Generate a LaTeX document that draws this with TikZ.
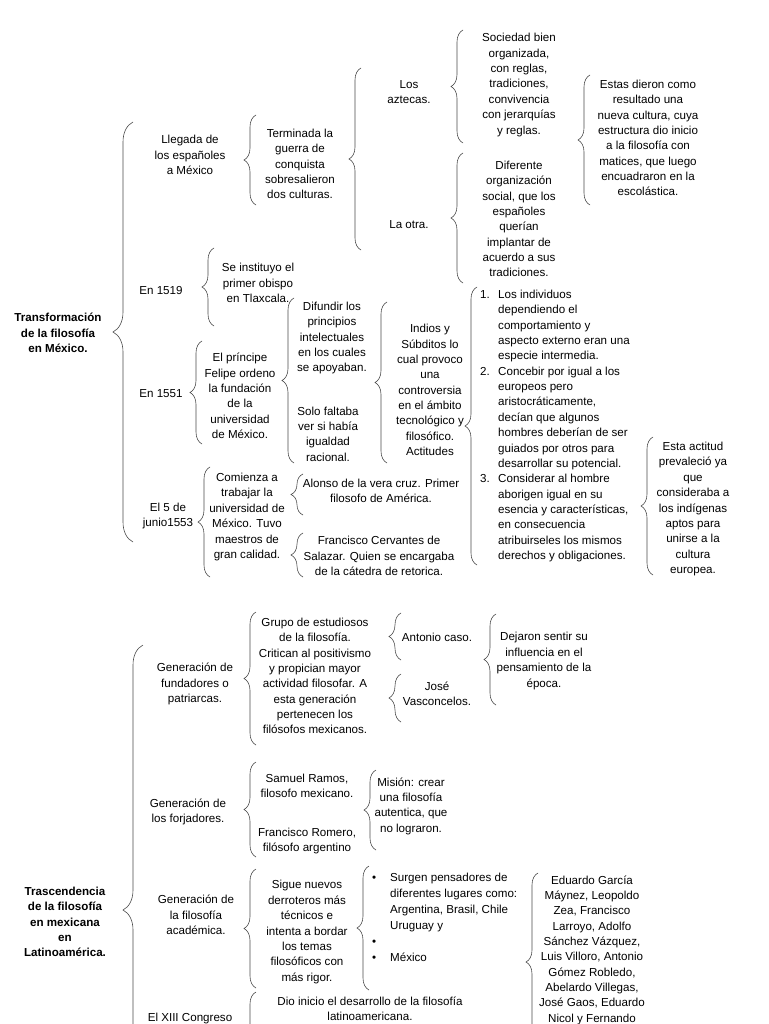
\documentclass[tikz,border=0pt]{standalone}
\usepackage{fontspec}
\setmainfont{Liberation Sans}
\usetikzlibrary{decorations.pathreplacing}
\begin{document}
\begin{tikzpicture}[x=1pt,y=-1pt,
  txt/.style={font=\fontsize{11.6}{15.35}\selectfont,align=center,inner sep=0pt},
  tit/.style={txt,font=\fontsize{11.6}{15.35}\selectfont\bfseries},
  brc/.style={decorate,decoration={brace,amplitude=12pt},black!70,line width=0.6pt},
  bigbrc/.style={brc,decoration={brace,amplitude=20pt}}]
\useasboundingbox (0,0) rectangle (768,1024);
\fill[white] (0,0) rectangle (768,1024);
\clip (0,0) rectangle (768,1024);

\node[tit] (trans) at (58,333) {Transformación\\de la filosofía\\en México.};
\node[txt] (llegada) at (190,155) {Llegada de\\los españoles\\a México};
\node[txt] (en1519) at (161,291) {En 1519};
\node[txt] (en1551) at (161,394) {En 1551};
\node[txt] (junio) at (168,516) {El 5 de\\junio1553};
\node[txt] (terminada) at (300,164) {Terminada la\\guerra de\\conquista\\sobresalieron\\dos culturas.};
\node[txt] (aztecas) at (409,92) {Los\\aztecas.};
\node[txt] (otra) at (409,225) {La otra.};
\node[txt] (sociedad) at (519,85) {Sociedad bien\\organizada,\\con reglas,\\tradiciones,\\convivencia\\con jerarquías\\y reglas.};
\node[txt] (diferente) at (519,219) {Diferente\\organización\\social, que los\\españoles\\querían\\implantar de\\acuerdo a sus\\tradiciones.};
\node[txt] (estas) at (648,138) {Estas dieron como\\resultado una\\nueva cultura, cuya\\estructura dio inicio\\a la filosofía con\\matices, que luego\\encuadraron en la\\escolástica.};
\node[txt] (obispo) at (258,283) {Se instituyo el\\primer obispo\\en Tlaxcala.};
\node[txt] (principe) at (240,396) {El príncipe\\Felipe ordeno\\la fundación\\de la\\universidad\\de México.};
\node[txt] (difundir) at (332,338) {Difundir los\\principios\\intelectuales\\en los cuales\\se apoyaban.};
\node[txt] (faltaba) at (328,434) {Solo faltaba\\ver si había\\igualdad\\racional.};
\node[txt] (indios) at (430,390) {Indios y\\Súbditos lo\\cual provoco\\una\\controversia\\en el ámbito\\tecnológico y\\filosófico.\\Actitudes};
\node[txt,align=left,anchor=west] (lista) at (480,426) {\makebox[18pt][l]{1.}Los individuos\\\hspace*{18pt}dependiendo el\\\hspace*{18pt}comportamiento y\\\hspace*{18pt}aspecto externo eran una\\\hspace*{18pt}especie intermedia.\\\makebox[18pt][l]{2.}Concebir por igual a los\\\hspace*{18pt}europeos  pero\\\hspace*{18pt}aristocráticamente,\\\hspace*{18pt}decían que algunos\\\hspace*{18pt}hombres deberían de ser\\\hspace*{18pt}guiados por otros para\\\hspace*{18pt}desarrollar su potencial.\\\makebox[18pt][l]{3.}Considerar al hombre\\\hspace*{18pt}aborigen igual en su\\\hspace*{18pt}esencia y características,\\\hspace*{18pt}en consecuencia\\\hspace*{18pt}atribuirseles  los mismos\\\hspace*{18pt}derechos y obligaciones.};
\node[txt] (actitud) at (693,509) {Esta actitud\\prevaleció ya\\que\\consideraba a\\los indígenas\\aptos para\\unirse a la\\cultura\\europea.};
\node[txt] (comienza) at (247,517) {Comienza a\\trabajar la\\universidad de\\México.  Tuvo\\maestros de\\gran calidad.};
\node[txt] (alonso) at (381,491) {Alonso de la vera cruz. Primer\\filosofo de América.};
\node[txt] (cervantes) at (379,556) {Francisco Cervantes de\\Salazar. Quien se encargaba\\de la cátedra de retorica.};

\draw[bigbrc] (133,542) -- (133,122);
\draw[brc] (256,205) -- (256,115);
\draw[brc] (361,250) -- (361,68);
\draw[brc] (463,143) -- (463,30);
\draw[brc] (463,283) -- (463,153);
\draw[brc] (590,205) -- (590,75);
\draw[brc] (214,326) -- (214,248);
\draw[brc] (294,463) -- (294,298);
\draw[brc] (202,444) -- (202,341);
\draw[brc] (387,463) -- (387,302);
\draw[brc] (477,565) -- (477,287);
\draw[brc] (653,575) -- (653,437);
\draw[brc] (210,577) -- (210,467);
\draw[brc] (303,515) -- (303,474);
\draw[brc] (303,577) -- (303,533);

\node[tit] (trasc) at (65,922) {Trascendencia\\de la filosofía\\en mexicana\\en\\Latinoamérica.};
\node[txt] (fundadores) at (195,684) {Generación de\\fundadores o\\patriarcas.};
\node[txt] (forjadores) at (188,812) {Generación de\\los forjadores.};
\node[txt] (academica) at (196,915) {Generación de\\la filosofía\\académica.};
\node[txt] (congreso) at (190,1018) {El XIII Congreso};
\node[txt] (grupo) at (315,676) {Grupo de estudiosos\\de la filosofía.\\Critican al positivismo\\y propician mayor\\actividad filosofar. A\\esta generación\\pertenecen los\\filósofos mexicanos.};
\node[txt] (antonio) at (437,637) {Antonio caso.};
\node[txt] (jose) at (437,694) {José\\Vasconcelos.};
\node[txt] (dejaron) at (544,661) {Dejaron sentir su\\influencia en el\\pensamiento de la\\época.};
\node[txt] (samuel) at (307,786) {Samuel Ramos,\\filosofo mexicano.};
\node[txt] (romero) at (307,841) {Francisco Romero,\\filósofo argentino};
\node[txt] (mision) at (411,806) {Misión: crear\\una filosofía\\autentica, que\\no lograron.};
\node[txt] (sigue) at (307,932) {Sigue nuevos\\derroteros más\\técnicos e\\intenta a bordar\\los temas\\filosóficos con\\más rigor.};
\node[txt,align=left,anchor=west,font=\fontsize{11.6}{16}\selectfont] (surgen) at (372,917) {\makebox[18pt][l]{•}Surgen pensadores de\\\hspace*{18pt}diferentes lugares como:\\\hspace*{18pt}Argentina, Brasil, Chile\\\hspace*{18pt}Uruguay y\\\makebox[18pt][l]{•}\\\makebox[18pt][l]{•}México};
\node[txt] (eduardo) at (592,950) {Eduardo García\\Máynez, Leopoldo\\Zea, Francisco\\Larroyo, Adolfo\\Sánchez Vázquez,\\Luis Villoro, Antonio\\Gómez Robledo,\\Abelardo Villegas,\\José Gaos, Eduardo\\Nicol y Fernando};
\node[txt] (dioinicio) at (370,1009) {Dio inicio el desarrollo de la filosofía\\latinoamericana.};

\draw[bigbrc] (143,1175) -- (143,645);
\draw[brc] (256,745) -- (256,612);
\draw[brc] (401,660) -- (401,613);
\draw[brc] (401,722) -- (401,674);
\draw[brc] (496,705) -- (496,614);
\draw[brc] (256,857) -- (256,762);
\draw[brc] (376,850) -- (376,770);
\draw[brc] (256,988) -- (256,869);
\draw[brc] (369,990) -- (369,866);
\draw[brc] (538,1051) -- (538,873);
\draw[brc] (256,1090) -- (256,992);
\end{tikzpicture}
\end{document}
